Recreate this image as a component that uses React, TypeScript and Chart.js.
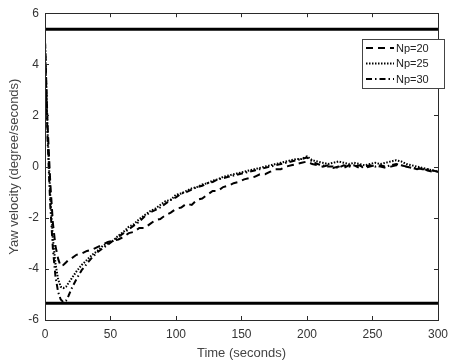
import { useEffect, useRef } from "react";
import { Chart, registerables } from "chart.js";
Chart.register(...registerables);

const timeSec = [
  0, 2, 4, 6, 8, 10, 12, 14, 16, 18,
  20, 24, 28, 32, 36, 40, 44, 48, 52, 56,
  60, 64, 68, 72, 76, 80, 84, 88, 92, 96,
  100, 104, 108, 112, 116, 120, 124, 128, 132, 136,
  140, 144, 148, 152, 156, 160, 164, 168, 172, 176,
  180, 184, 188, 192, 196, 200, 204, 208, 212, 216,
  220, 224, 228, 232, 236, 240, 244, 248, 252, 256,
  260, 264, 268, 272, 276, 280, 284, 288, 292, 296, 300,
];

const np20 = [
  4.9, 1.6, -0.6, -2.2, -3.1, -3.6, -3.9, -3.85, -3.75, -3.65,
  -3.6, -3.45, -3.4, -3.3, -3.25, -3.15, -3.05, -2.95, -2.9, -2.85,
  -2.75, -2.6, -2.55, -2.4, -2.4, -2.25, -2.1, -2.05, -1.9, -1.8,
  -1.65, -1.6, -1.45, -1.5, -1.3, -1.25, -1.1, -0.95, -0.95, -0.8,
  -0.75, -0.65, -0.6, -0.5, -0.45, -0.4, -0.3, -0.3, -0.2, -0.1,
  -0.1, 0.0, 0.05, 0.1, 0.15, 0.2, 0.1, 0.05, 0.0, 0.05,
  -0.05, 0.0, -0.05, 0.05, 0.0, 0.05, -0.05, 0.0, 0.05, 0.0,
  -0.05, 0.0, 0.05, 0.05, 0.0, -0.05, -0.1, -0.05, -0.15, -0.2, -0.2,
];

const np25 = [
  4.9, 1.3, -1.1, -2.8, -3.8, -4.4, -4.7, -4.75, -4.7, -4.55,
  -4.4, -4.1, -3.85, -3.65, -3.45, -3.3, -3.1, -3.0, -2.9, -2.7,
  -2.55, -2.35, -2.25, -2.05, -1.9, -1.75, -1.65, -1.5, -1.35, -1.3,
  -1.1, -1.05, -0.95, -0.85, -0.8, -0.7, -0.65, -0.55, -0.5, -0.4,
  -0.35, -0.3, -0.25, -0.2, -0.15, -0.1, -0.05, 0.0, 0.05, 0.1,
  0.15, 0.2, 0.25, 0.3, 0.3, 0.4, 0.25, 0.2, 0.15, 0.1,
  0.15, 0.2, 0.15, 0.1, 0.15, 0.1, 0.05, 0.1, 0.15, 0.1,
  0.15, 0.2, 0.25, 0.2, 0.1, 0.05, 0.0, -0.05, -0.1, -0.15, -0.2,
];

const np30 = [
  4.9, 1.0, -1.5, -3.2, -4.3, -4.9, -5.2, -5.3, -5.25, -5.05,
  -4.8, -4.4, -4.05, -3.8, -3.55, -3.35, -3.2, -3.05, -2.9, -2.75,
  -2.6, -2.45, -2.3, -2.15, -1.95, -1.8, -1.7, -1.6, -1.45, -1.3,
  -1.2, -1.05, -1.0, -0.9, -0.8, -0.75, -0.65, -0.6, -0.5, -0.45,
  -0.4, -0.35, -0.3, -0.25, -0.2, -0.15, -0.1, -0.05, 0.0, 0.05,
  0.1, 0.15, 0.2, 0.25, 0.3, 0.35, 0.2, 0.1, 0.05, 0.0,
  0.0, -0.05, 0.05, 0.0, 0.05, -0.05, 0.0, 0.05, 0.0, 0.05,
  0.0, 0.05, 0.1, 0.05, 0.0, -0.05, -0.05, -0.1, -0.1, -0.15, -0.2,
];

const limitUpper = 5.37;
const limitLower = -5.34;

const xTicks = [0, 50, 100, 150, 200, 250, 300];
const yTicks = [-6, -4, -2, 0, 2, 4, 6];

const seriesLabels = ["Np=20", "Np=25", "Np=30"];
const seriesDashes = [[7, 5], [1.5, 1.5], [6, 3, 1.5, 3]];

const FONT = "'Liberation Sans', Arial, sans-serif";

const framePlugin = {
  id: "frame",
  afterDraw(chart: any) {
    const { ctx, chartArea: a, scales } = chart;
    ctx.save();
    ctx.strokeStyle = "#2a2a2a";
    ctx.lineWidth = 1;
    ctx.strokeRect(Math.round(a.left) + 0.5, Math.round(a.top) + 0.5, Math.round(a.right - a.left), Math.round(a.bottom - a.top));
    ctx.beginPath();
    const tl = 4;
    for (const v of xTicks) {
      const x = Math.round(scales.x.getPixelForValue(v)) + 0.5;
      ctx.moveTo(x, a.bottom);
      ctx.lineTo(x, a.bottom - tl);
      ctx.moveTo(x, a.top);
      ctx.lineTo(x, a.top + tl);
    }
    for (const v of yTicks) {
      const y = Math.round(scales.y.getPixelForValue(v)) + 0.5;
      ctx.moveTo(a.left, y);
      ctx.lineTo(a.left + tl, y);
      ctx.moveTo(a.right, y);
      ctx.lineTo(a.right - tl, y);
    }
    ctx.stroke();
    ctx.restore();
  },
};

const legendPlugin = {
  id: "boxLegend",
  afterDraw(chart: any) {
    const { ctx } = chart;
    const bx = 362.5, by = 39.5, bw = 82, bh = 49;
    ctx.save();
    ctx.fillStyle = "#fff";
    ctx.fillRect(bx, by, bw, bh);
    ctx.strokeStyle = "#444";
    ctx.lineWidth = 1;
    ctx.strokeRect(bx, by, bw, bh);
    const rows = [48, 63.5, 79];
    seriesLabels.forEach((lab, i) => {
      const y = rows[i];
      ctx.beginPath();
      ctx.setLineDash(seriesDashes[i]);
      ctx.strokeStyle = "#000";
      ctx.lineWidth = 2;
      ctx.moveTo(366, y);
      ctx.lineTo(394, y);
      ctx.stroke();
      ctx.setLineDash([]);
      ctx.fillStyle = "#222";
      ctx.font = `11px ${FONT}`;
      ctx.textBaseline = "middle";
      ctx.textAlign = "left";
      ctx.fillText(lab, 396, y + 0.5);
    });
    ctx.restore();
  },
};

export default function App() {
  const ref = useRef<HTMLCanvasElement>(null);
  useEffect(() => {
    document.body.style.margin = "0";
    const toPts = (ys: number[]) => timeSec.map((t, i) => ({ x: t, y: ys[i] }));
    const series = [np20, np25, np30];
    const datasets: any[] = series.map((ys, i) => ({
      label: seriesLabels[i],
      data: toPts(ys),
      borderColor: "#000",
      borderWidth: 2,
      borderDash: seriesDashes[i],
      pointRadius: 0,
      tension: 0,
      fill: false,
    }));
    [limitUpper, limitLower].forEach((v, i) => {
      datasets.push({
        label: i === 0 ? "upper limit" : "lower limit",
        data: [{ x: 0, y: v }, { x: 300, y: v }],
        borderColor: "#000",
        borderWidth: 3,
        pointRadius: 0,
        fill: false,
      });
    });
    const chart = new Chart(ref.current!, {
      type: "line",
      data: { datasets },
      options: {
        responsive: false,
        animation: false,
        layout: { padding: { top: 12, right: 9, left: 0, bottom: 0 } },
        plugins: { legend: { display: false }, tooltip: { enabled: false } },
        scales: {
          x: {
            type: "linear",
            min: 0,
            max: 300,
            afterBuildTicks: (s: any) => {
              s.ticks = xTicks.map((v) => ({ value: v }));
            },
            afterFit: (s: any) => {
              s.height = 42;
            },
            grid: { display: false, drawTicks: false },
            border: { display: false },
            ticks: { padding: 7, color: "#333", maxRotation: 0, font: { family: FONT, size: 12 } },
            title: {
              display: true,
              text: "Time (seconds)",
              color: "#444",
              font: { family: FONT, size: 13 },
              padding: { top: 0, bottom: 1 },
            },
          },
          y: {
            type: "linear",
            min: -6,
            max: 6,
            afterBuildTicks: (s: any) => {
              s.ticks = yTicks.map((v) => ({ value: v }));
            },
            afterFit: (s: any) => {
              s.width = 45;
            },
            grid: { display: false, drawTicks: false },
            border: { display: false },
            ticks: { padding: 6, color: "#333", font: { family: FONT, size: 12 } },
            title: {
              display: true,
              text: "Yaw velocity (degree/seconds)",
              color: "#444",
              font: { family: FONT, size: 13 },
              padding: { top: 7, bottom: 0 },
            },
          },
        },
      },
      plugins: [framePlugin, legendPlugin],
    });
    return () => chart.destroy();
  }, []);
  return <canvas ref={ref} width={455} height={362} style={{ display: "block" }} />;
}
